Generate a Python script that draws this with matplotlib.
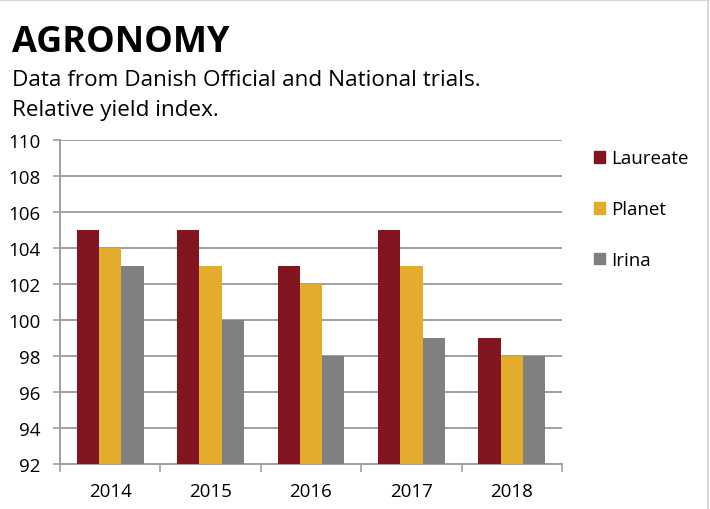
import matplotlib.pyplot as plt
from matplotlib.lines import Line2D
from matplotlib.ticker import FixedLocator, NullFormatter
import numpy as np

plt.rcParams["font.family"] = ["Open Sans", "DejaVu Sans"]

years = ["2014", "2015", "2016", "2017", "2018"]
series = ["Laureate", "Planet", "Irina"]
laureate = [105, 105, 103, 105, 99]
planet = [104, 103, 102, 103, 98]
irina = [103, 100, 98, 99, 98]
colors = ["#821520", "#E3AC2C", "#808080"]

W, H = 710, 510
fig = plt.figure(figsize=(W / 100, H / 100), dpi=100)
ax = fig.add_axes([60 / W, 45 / H, 502 / W, 324 / H])

x = np.arange(len(years))
width = 0.222
for k, (name, vals, c) in enumerate(zip(series, [laureate, planet, irina], colors)):
    ax.bar(x + (k - 1) * width, np.array(vals) - 92, width, bottom=92,
           color=c, label=name, zorder=3)

ax.set_xlim(-0.5, len(years) - 0.5)
ax.set_ylim(92, 110)
ax.set_yticks(range(92, 111, 2))
ax.tick_params(axis="y", labelsize=13.5, length=5, width=1.2, color="#a0a0a0", pad=9)
ax.yaxis.grid(True, color="#a0a0a0", linewidth=1.4, zorder=0)

ax.set_xticks(x)
ax.set_xticklabels(years)
ax.tick_params(axis="x", which="major", length=0, labelsize=13.5, pad=13)
ax.xaxis.set_minor_locator(FixedLocator(np.arange(-0.5, len(years), 1.0)))
ax.xaxis.set_minor_formatter(NullFormatter())
ax.tick_params(axis="x", which="minor", length=6, width=1.2, color="#a0a0a0")

for s in ["top", "right"]:
    ax.spines[s].set_visible(False)
for s in ["left", "bottom"]:
    ax.spines[s].set_color("#a0a0a0")
    ax.spines[s].set_linewidth(1.4)

handles = [plt.Rectangle((0, 0), 1, 1, color=c) for c in colors]
fig.legend(handles, series, loc="upper left", bbox_to_anchor=(586 / W, 1 - 143 / H),
           frameon=False, fontsize=13.5, handlelength=0.6, handleheight=0.6,
           handletextpad=0.35, labelspacing=1.75, borderaxespad=0)

fig.text(12 / W, 1 - 52 / H, "AGRONOMY", fontsize=26, fontweight="bold", va="baseline")
fig.text(12 / W, 1 - 86 / H, "Data from Danish Official and National trials.",
         fontsize=16.2, va="baseline")
fig.text(12 / W, 1 - 116 / H, "Relative yield index.", fontsize=16.2, va="baseline")

fig.add_artist(Line2D([0, 1], [1 - 1 / H, 1 - 1 / H], color="#d9d9d9", linewidth=1.5))
fig.add_artist(Line2D([1 - 2 / W, 1 - 2 / W], [0, 1], color="#d9d9d9", linewidth=1.5))

fig.savefig("out.png", dpi=100)
